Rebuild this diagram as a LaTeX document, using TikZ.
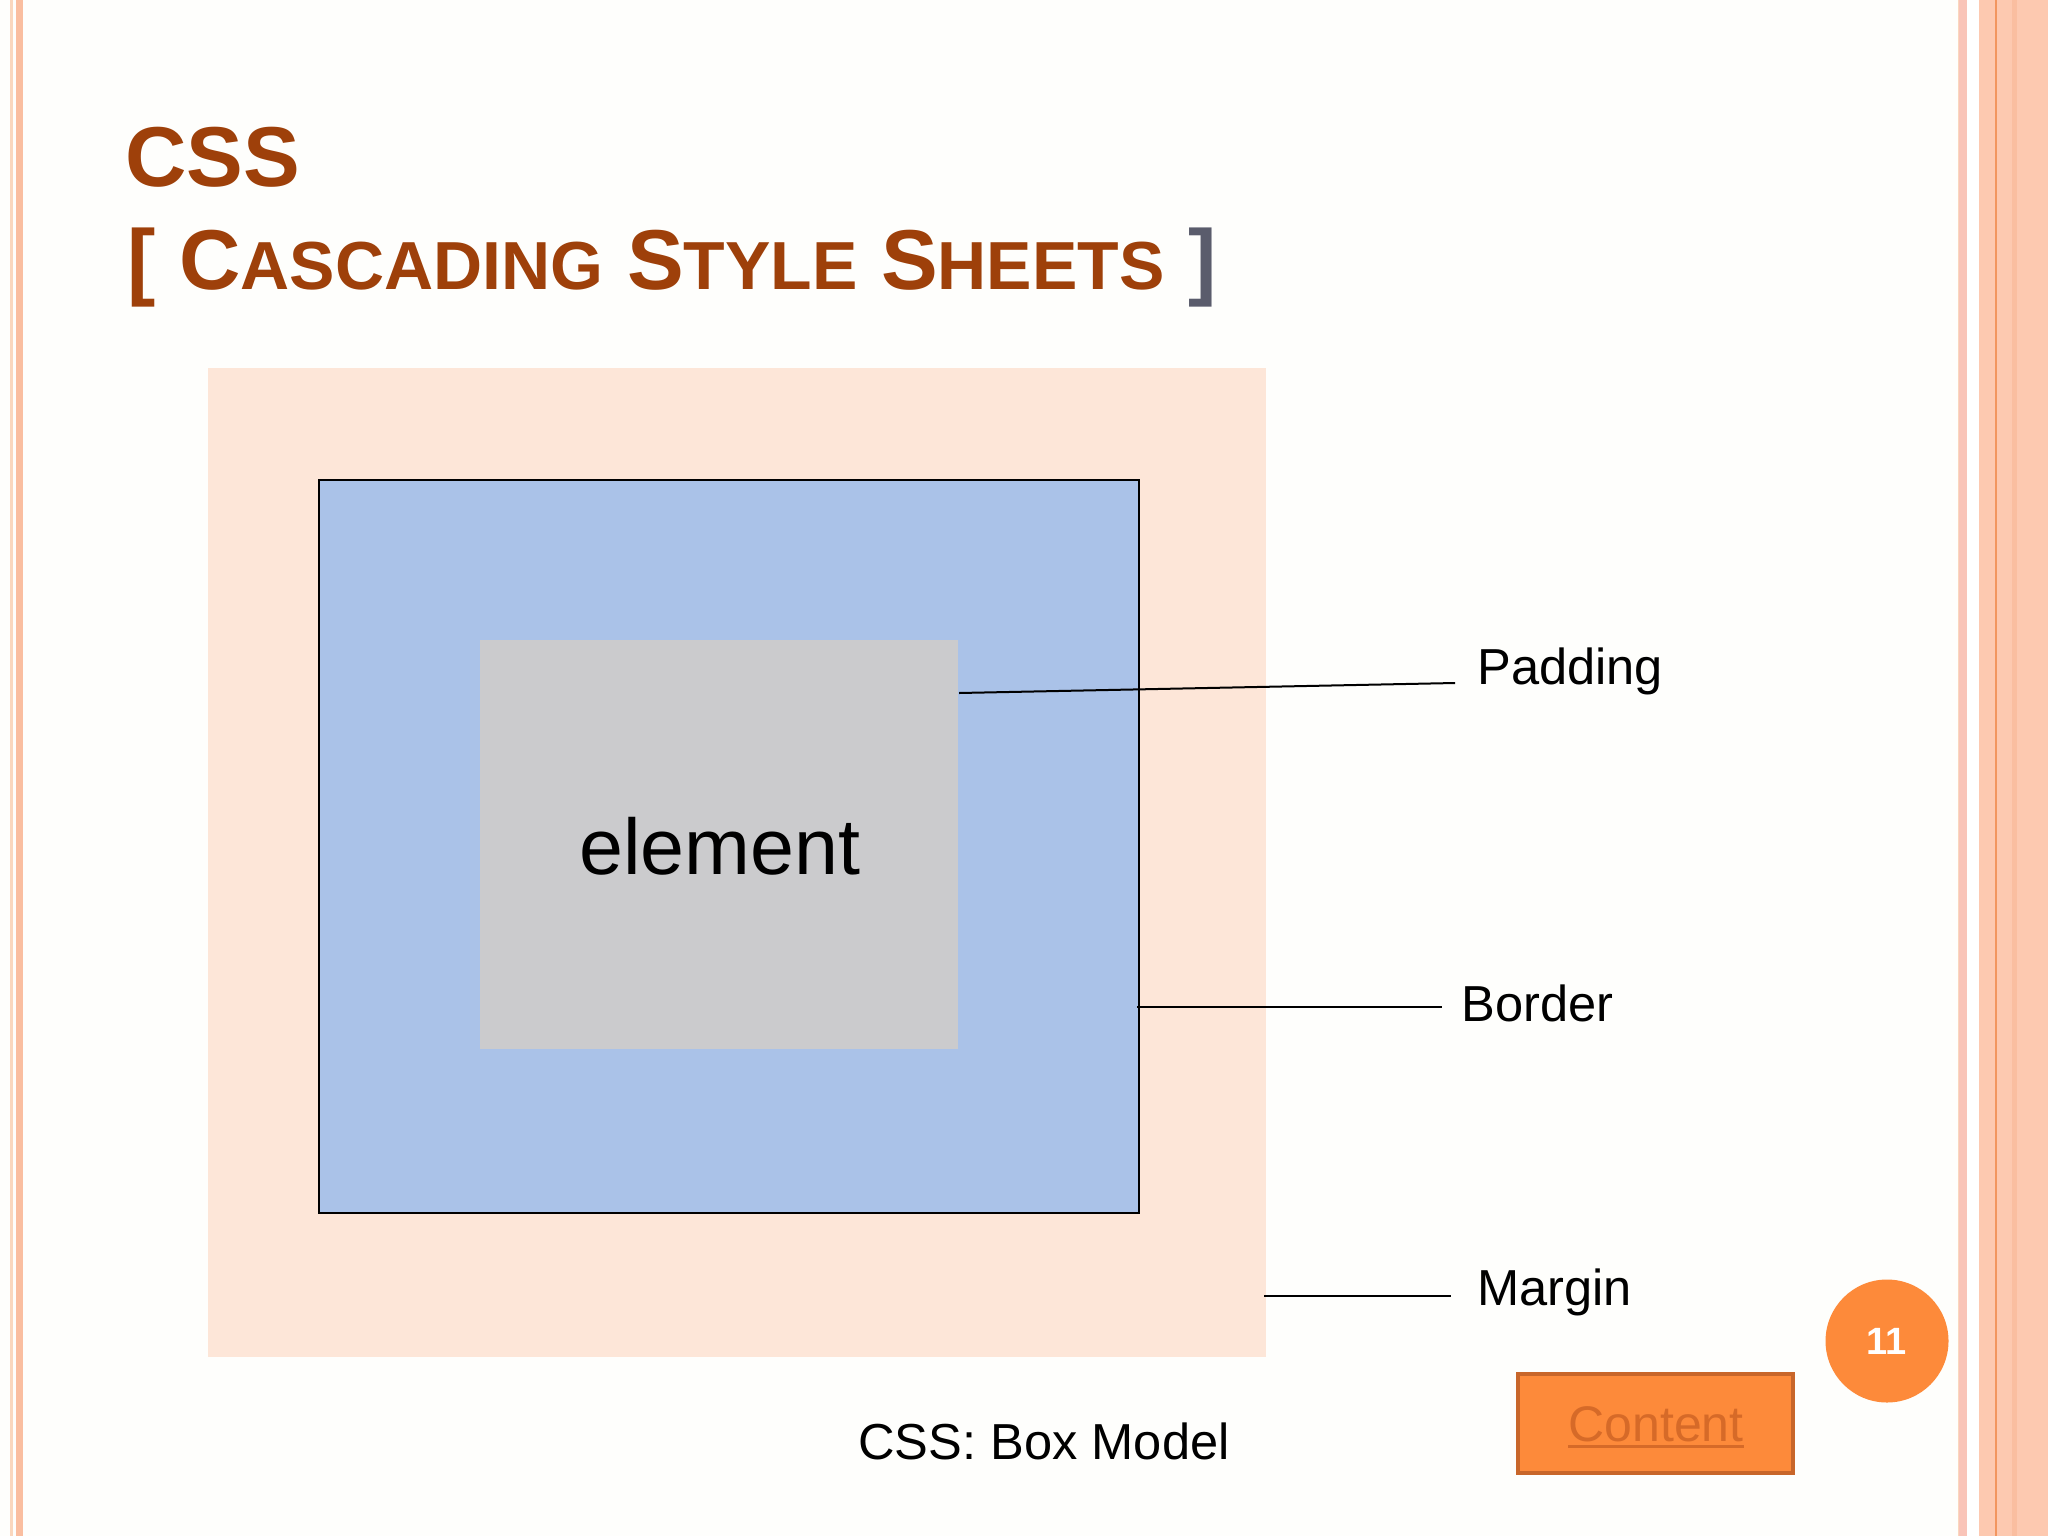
\documentclass[tikz,border=0pt]{standalone}
\usepackage{fontspec}
\setmainfont{Liberation Sans}
\definecolor{bgcol}{RGB}{254,254,252}
\definecolor{margincol}{RGB}{253,230,216}
\definecolor{bordercol}{RGB}{170,194,232}
\definecolor{elemcol}{RGB}{203,203,205}
\definecolor{titlecol}{RGB}{158,64,10}
\definecolor{bracketgray}{RGB}{90,92,108}
\definecolor{orangefill}{RGB}{253,138,58}
\definecolor{orangedark}{RGB}{200,102,42}
\definecolor{contentcol}{RGB}{214,106,40}
\definecolor{salmon}{RGB}{253,201,176}
\definecolor{pinkstripe}{RGB}{249,196,184}
\definecolor{orangeline}{RGB}{242,150,95}
\definecolor{salmondark}{RGB}{250,190,160}
\definecolor{lightline}{RGB}{250,215,190}
\tikzset{
  x=0.5pt, y=-0.5pt,
  boxnode/.style={draw=none, inner sep=0pt, outer sep=0pt, rectangle},
  lbl/.style={inner sep=0pt, anchor=base west, font=\fontsize{25.3}{30}\selectfont},
  conn/.style={draw=black, line width=1pt},
  titlefont/.style={inner sep=0pt, anchor=base west, text=titlecol, font=\fontsize{42.5}{50}\selectfont\bfseries}
}
\begin{document}
\begin{tikzpicture}
\useasboundingbox (0,0) rectangle (2048,1536);
\fill[bgcol] (0,0) rectangle (2048,1536);
% left stripes
\fill[lightline] (10,0) rectangle (13,1536);
\fill[salmondark] (16,0) rectangle (23,1536);
% right stripes
\fill[lightline] (1957.5,0) rectangle (1959.5,1536);
\fill[pinkstripe] (1959,0) rectangle (1967,1536);
\fill[white] (1967,0) rectangle (1979,1536);
\fill[salmon] (1979,0) rectangle (2048,1536);
\fill[salmondark] (2012,0) rectangle (2017,1536);
\fill[orangeline] (1995,0) rectangle (1997,1536);

% title
\node[titlefont] (t1) at (125,186) {CSS};
\node[titlefont] (t2) at (127,289) {[ C{\fontsize{34}{40}\selectfont ASCADING} S{\fontsize{34}{40}\selectfont TYLE} S{\fontsize{34}{40}\selectfont HEETS} {\color{bracketgray}]}};

% box model
\node[boxnode, fill=margincol, minimum width=529pt, minimum height=494.5pt] (margin) at (737,862.5) {};
\node[boxnode, fill=bordercol, draw=black, line width=1pt, minimum width=410pt, minimum height=366.5pt] (border) at (729,846.5) {};
\node[boxnode, fill=elemcol, minimum width=239pt, minimum height=204.5pt] (element) at (719,844.5) {};
\node[inner sep=0pt, anchor=base, font=\fontsize{39.5}{46}\selectfont] (elemtxt) at (720,874) {element};

% labels
\node[lbl] (padlbl) at (1477,684) {Padding};
\node[lbl] (borlbl) at (1461,1021) {Border};
\node[lbl] (marlbl) at (1477,1305) {Margin};

\coordinate (padA) at (959,693);
\coordinate (padB) at (1455,683);
\coordinate (borA) at (1137,1007);
\coordinate (borB) at (1442,1007);
\coordinate (marA) at (1264,1296);
\coordinate (marB) at (1451,1296);
\draw[conn] (padA) -- (padB);
\draw[conn] (borA) -- (borB);
\draw[conn] (marA) -- (marB);

\node[inner sep=0pt, anchor=base, font=\fontsize{25.3}{30}\selectfont] (caption) at (1044,1459) {CSS: Box Model};

% page number
\node[circle, fill=orangefill, minimum size=61.5pt, inner sep=0pt, text=white, font=\fontsize{19}{22}\selectfont\bfseries] (pnum) at (1887,1341) {11};

% content button
\node[boxnode, fill=orangefill, draw=orangedark, line width=2pt, minimum width=137.5pt, minimum height=49.5pt] (btn) at (1655.5,1423.5) {};
\node[inner sep=0pt, anchor=base, text=contentcol, font=\fontsize{25}{30}\selectfont] (cnt) at (1656,1441) {Content};
\draw[contentcol, line width=1.2pt] ([yshift=-2.8pt]cnt.base west) -- ([yshift=-2.8pt]cnt.base east);
\end{tikzpicture}
\end{document}
